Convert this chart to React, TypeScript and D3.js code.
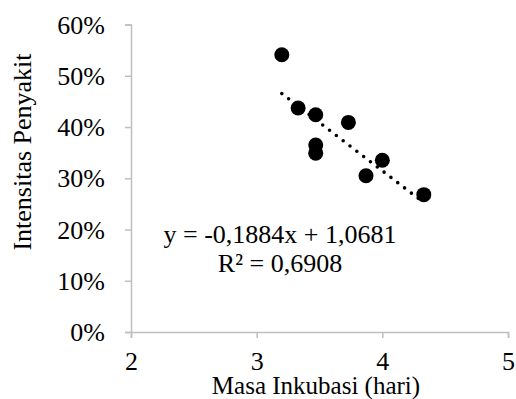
import React, { useEffect, useRef } from "react";
import * as d3 from "d3";

// masa inkubasi (hari) vs intensitas penyakit
const masaInkubasi = [3.2, 3.33, 3.47, 3.73, 3.47, 3.47, 3.87, 4.0, 4.33];
const intensitas = [0.541, 0.437, 0.424, 0.409, 0.365, 0.349, 0.305, 0.335, 0.268];
const xTicks = [2, 3, 4, 5];
const yTicks = [0, 0.1, 0.2, 0.3, 0.4, 0.5, 0.6];
const slope = -0.1884;
const intercept = 1.0681;
const eqLines = ["y = -0,1884x + 1,0681", "R² = 0,6908"];

const font = "'Liberation Serif', 'Times New Roman', serif";

export default function App() {
  const ref = useRef<SVGSVGElement>(null);

  useEffect(() => {
    const svg = d3.select(ref.current);
    svg.selectAll("*").remove();

    const x = d3.scaleLinear().domain([2, 5]).range([131, 508]);
    const y = d3.scaleLinear().domain([0, 0.6]).range([332, 24.5]);
    const axisColor = "#bfbfbf";

    // y axis
    const yAxis = svg.append("g").attr("transform", "translate(131,0)");
    yAxis.call(d3.axisLeft(y).tickValues(yTicks).tickSize(6).tickFormat(d3.format(".0%")));
    yAxis.select(".domain").attr("stroke", axisColor).attr("stroke-width", 1.5);
    yAxis.selectAll(".tick line").attr("stroke", axisColor).attr("stroke-width", 1.5);
    yAxis.selectAll(".tick text")
      .attr("x", -26)
      .attr("dy", "0.33em")
      .attr("fill", "#000")
      .style("font-family", font)
      .style("font-size", "26px");

    // x axis
    const xAxis = svg.append("g").attr("transform", "translate(0,332)");
    xAxis.call(d3.axisBottom(x).tickValues(xTicks).tickSize(6).tickFormat(d3.format("d")));
    xAxis.select(".domain").attr("stroke", axisColor).attr("stroke-width", 1.5);
    xAxis.selectAll(".tick line").attr("stroke", axisColor).attr("stroke-width", 1.5);
    xAxis.selectAll(".tick text")
      .attr("y", 38)
      .attr("dy", 0)
      .attr("fill", "#000")
      .style("font-family", font)
      .style("font-size", "26px");

    // trendline
    const [x0, x1] = d3.extent(masaInkubasi) as [number, number];
    svg.append("path")
      .datum([x0, x1])
      .attr("fill", "none")
      .attr("stroke", "#000")
      .attr("stroke-width", 3.6)
      .attr("stroke-linecap", "round")
      .attr("stroke-dasharray", "0 8.6")
      .attr("d", d3.line<number>()
        .x(d => x(d))
        .y(d => y(slope * d + intercept)));

    // points
    svg.append("g")
      .selectAll("circle")
      .data(masaInkubasi)
      .join("circle")
      .attr("cx", d => x(d))
      .attr("cy", (d, i) => y(intensitas[i]))
      .attr("r", 7.5)
      .attr("fill", "#000");

    // equation
    svg.append("g")
      .selectAll("text")
      .data(eqLines)
      .join("text")
      .attr("x", 280)
      .attr("y", (d, i) => 243 + i * 29)
      .attr("text-anchor", "middle")
      .style("font-family", font)
      .style("font-size", "26px")
      .text(d => d);

    // axis titles
    svg.append("text")
      .attr("x", 316)
      .attr("y", 394)
      .attr("text-anchor", "middle")
      .style("font-family", font)
      .style("font-size", "25px")
      .text("Masa Inkubasi (hari)");

    svg.append("text")
      .attr("transform", "translate(31,152) rotate(-90)")
      .attr("text-anchor", "middle")
      .style("font-family", font)
      .style("font-size", "26px")
      .text("Intensitas Penyakit");
  }, []);

  return (
    <svg
      ref={ref}
      width={516}
      height={399}
      style={{ position: "absolute", left: 0, top: 0, background: "#fff" }}
    />
  );
}
